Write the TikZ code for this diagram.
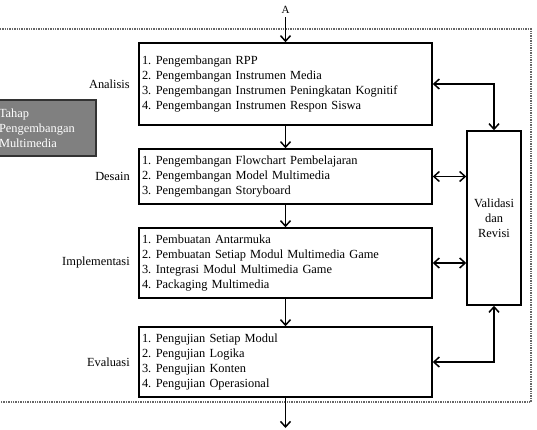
\documentclass[tikz,border=0pt]{standalone}
\usepackage{fontspec}
\setmainfont{Liberation Serif}
\usetikzlibrary{arrows.meta,positioning}

\begin{document}
\begin{tikzpicture}[x=1pt,y=-1pt,font=\fontsize{12.4}{15}\selectfont,
        stage/.style={draw,line width=1.5pt,minimum width=293pt,text width=287pt,inner xsep=3pt,align=left},
        flow/.style={line width=1.5pt,-{Straight Barb[length=5.5pt,width=10pt]}},
        both/.style={line width=1.5pt,{Straight Barb[length=5.5pt,width=10pt]}-{Straight Barb[length=5.5pt,width=10pt]}}]
    \useasboundingbox (0,0) rectangle (537,429);
    % frame round the stages
    \draw[black!60,densely dotted,line width=1.4pt] (-5,29) -| (531,402) -- (-5,402);
    \node[draw=black!80,fill=black!50,text=white!85,line width=1.2pt,minimum width=101pt,minimum height=56pt,
        text width=93pt,inner xsep=4pt,align=left] (tahap) at (45.5,128) {Tahap\\Pengembangan\\Multimedia};
    % stages
    \node[font=\fontsize{11}{13}\selectfont] (A) at (285.5,10) {A};
    \node[stage,minimum height=82pt] (an) at (285.5,84) {\begin{tabular}{@{}l@{\hspace{4.5pt}}l@{}}
        1. & Pengembangan RPP\\
        2. & Pengembangan Instrumen Media\\
        3. & Pengembangan Instrumen Peningkatan Kognitif\\
        4. & Pengembangan Instrumen Respon Siswa
    \end{tabular}};
    \node[stage,minimum height=55pt] (ds) at (285.5,176.5) {\begin{tabular}{@{}l@{\hspace{4.5pt}}l@{}}
        1. & Pengembangan Flowchart Pembelajaran\\
        2. & Pengembangan Model Multimedia\\
        3. & Pengembangan Storyboard
    \end{tabular}};
    \node[stage,minimum height=70pt] (im) at (285.5,263) {\begin{tabular}{@{}l@{\hspace{4.5pt}}l@{}}
        1. & Pembuatan Antarmuka\\
        2. & Pembuatan Setiap Modul Multimedia Game\\
        3. & Integrasi Modul Multimedia Game\\
        4. & Packaging Multimedia
    \end{tabular}};
    \node[stage,minimum height=70pt] (ev) at (285.5,362) {\begin{tabular}{@{}l@{\hspace{4.5pt}}l@{}}
        1. & Pengujian Setiap Modul\\
        2. & Pengujian Logika\\
        3. & Pengujian Konten\\
        4. & Pengujian Operasional
    \end{tabular}};
    \node[left=5pt of an] (anlbl) {Analisis};
    \node[left=5pt of ds] (dslbl) {Desain};
    \node[left=5pt of im] (imlbl) {Implementasi};
    \node[left=5pt of ev] (evlbl) {Evaluasi};
    \node[draw,line width=1.5pt,minimum width=54pt,minimum height=174pt,align=center] (val) at (494,218) {Validasi\\dan\\Revisi};
    \coordinate (out) at (285.5,428);
    % arrows
    \draw[flow] (A.south) -- (an.north);
    \draw[flow] (an.south) -- (ds.north);
    \draw[flow] (ds.south) -- (im.north);
    \draw[flow] (im.south) -- (ev.north);
    \draw[flow] (ev.south) -- (out);
    \draw[both] (an.east) -| (val.north);
    \draw[both] (ds.east) -- (ds.east -| val.west);
    \draw[both] (im.east) -- (im.east -| val.west);
    \draw[both] (ev.east) -| (val.south);
\end{tikzpicture}
\end{document}
